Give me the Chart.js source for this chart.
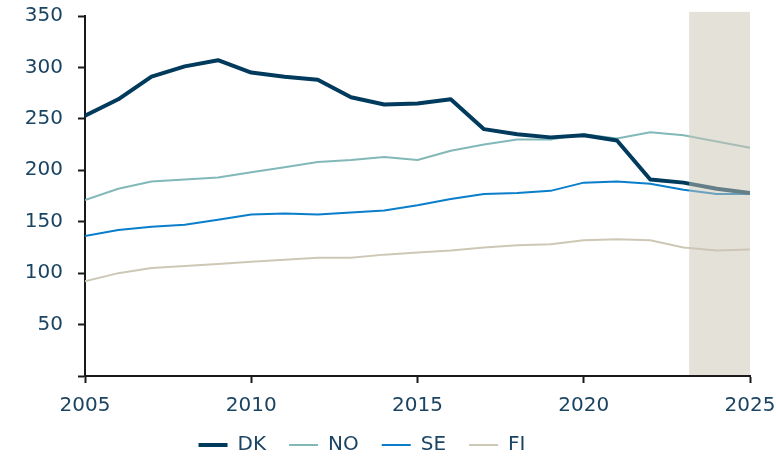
<!DOCTYPE html>
<html>
<head>
<meta charset="utf-8">
<script src="https://cdn.jsdelivr.net/npm/chart.js@4/dist/chart.umd.min.js"></script>
<style>
  html, body { margin: 0; padding: 0; background: #fff; }
  #wrap { width: 776px; height: 456px; }
</style>
</head>
<body>
<div id="wrap"><canvas id="chart"></canvas></div>
<script>
// data
const years = [2005, 2006, 2007, 2008, 2009, 2010, 2011, 2012, 2013, 2014, 2015,
               2016, 2017, 2018, 2019, 2020, 2021, 2022, 2023, 2024, 2025];
const dk = [253, 269, 291, 301, 307, 295, 291, 288, 271, 264, 265, 269, 240, 235, 232, 234, 229, 191, 188, 182, 178];
const no = [171, 182, 189, 191, 193, 198, 203, 208, 210, 213, 210, 219, 225, 230, 230, 235, 231, 237, 234, 228, 222];
const se = [136, 142, 145, 147, 152, 157, 158, 157, 159, 161, 166, 172, 177, 178, 180, 188, 189, 187, 181, 177, 177];
const fi = [92, 100, 105, 107, 109, 111, 113, 115, 115, 118, 120, 122, 125, 127, 128, 132, 133, 132, 125, 122, 123];
const xTicks = [2005, 2010, 2015, 2020, 2025];
const yTicks = [0, 50, 100, 150, 200, 250, 300, 350];
const forecastFrom = 2023.17; // start of the shaded band

const textColor = '#1b4463';
const axisColor = '#1a1a1a';
const font = { family: 'DejaVu Sans', size: 20 };

function points(values) {
  return years.map((y, i) => ({ x: y, y: values[i] }));
}

// shaded forecast band, drawn over the lines
const forecastBand = {
  id: 'forecastBand',
  afterDatasetsDraw(chart) {
    const { ctx, chartArea, scales } = chart;
    const x0 = scales.x.getPixelForValue(forecastFrom);
    const x1 = scales.x.getPixelForValue(years[years.length - 1]);
    const top = scales.y.getPixelForValue(354);
    ctx.save();
    ctx.fillStyle = 'rgba(202, 196, 180, 0.5)';
    ctx.fillRect(x0, top, x1 - x0, chartArea.bottom - 1 - top);
    ctx.restore();
  }
};

// legend sits a bit left of centre and tight under the axis in the reference
const legendShift = {
  id: 'legendShift',
  afterLayout(chart) {
    chart.legend.left -= 13;
    chart.legend.right -= 13;
    chart.legend.top -= 17;
  }
};

const ctx = document.getElementById('chart').getContext('2d');
new Chart(ctx, {
  type: 'line',
  data: {
    datasets: [
      { label: 'DK', data: points(dk), borderColor: '#003a5c', backgroundColor: '#003a5c', borderWidth: 4 },
      { label: 'NO', data: points(no), borderColor: '#83b8b8', backgroundColor: '#83b8b8', borderWidth: 2 },
      { label: 'SE', data: points(se), borderColor: '#0a7ecb', backgroundColor: '#0a7ecb', borderWidth: 2 },
      { label: 'FI', data: points(fi), borderColor: '#cdc8b6', backgroundColor: '#cdc8b6', borderWidth: 2 }
    ]
  },
  options: {
    responsive: true,
    maintainAspectRatio: false,
    animation: false,
    layout: { padding: { top: 16, right: 26, bottom: 0, left: 0 } },
    elements: {
      point: { radius: 0 },
      line: { tension: 0, borderJoinStyle: 'round', borderCapStyle: 'butt' }
    },
    plugins: {
      tooltip: { enabled: false },
      legend: {
        position: 'bottom',
        maxHeight: 27,
        labels: {
          usePointStyle: true,
          pointStyle: 'line',
          pointStyleWidth: 29,
          boxWidth: 29,
          padding: 23,
          color: textColor,
          font: font
        }
      }
    },
    scales: {
      x: {
        type: 'linear',
        min: 2005,
        max: 2025,
        afterBuildTicks: (s) => { s.ticks = xTicks.map(v => ({ value: v })); },
        afterFit: (s) => { s.paddingLeft = 0; s.paddingRight = 0; },
        ticks: {
          color: textColor,
          font: font,
          padding: 11,
          maxRotation: 0,
          callback: (v) => String(v)
        },
        grid: { drawOnChartArea: false, tickLength: 7, color: axisColor, tickWidth: 2 },
        border: { color: axisColor, width: 2 }
      },
      y: {
        min: 0,
        max: 350,
        afterBuildTicks: (s) => { s.ticks = yTicks.map(v => ({ value: v })); },
        afterFit: (s) => { s.width = 85; s.paddingTop = 0; s.paddingBottom = 0; },
        ticks: {
          color: textColor,
          font: font,
          padding: 15,
          callback: (v) => (v === 0 ? '' : String(v))
        },
        grid: { drawOnChartArea: false, tickLength: 7, color: axisColor, tickWidth: 2 },
        border: { color: axisColor, width: 2 }
      }
    }
  },
  plugins: [forecastBand, legendShift]
});
</script>
</body>
</html>
